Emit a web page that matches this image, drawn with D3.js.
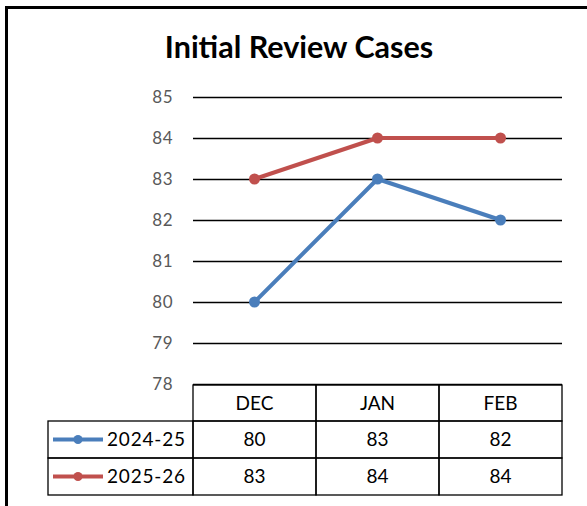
<!DOCTYPE html>
<html>
<head>
<meta charset="utf-8">
<script src="https://cdn.jsdelivr.net/npm/d3@7"></script>
<style>
  body { margin: 0; background: #fff; }
  svg { display: block; }
</style>
</head>
<body>
<main></main>
<script>
let svgWidth  = 587;
let svgHeight = 506;

const months   = ['DEC', 'JAN', 'FEB'];
const series   = ['2024-25', '2025-26'];
const values24 = [80, 83, 82];
const values25 = [83, 84, 84];
const yTicks   = [78, 79, 80, 81, 82, 83, 84, 85];

const colors = { '2024-25': '#4a7ebb', '2025-26': '#c0504d' };
const fontFamily = 'Lato, "Open Sans", sans-serif';

let plotLeft   = 193;
let plotRight  = 562;
let plotTop    = 97;
let plotBottom = 384;
let rowHeight  = 37;

var svg = d3.select('body main')
  .append('svg')
  .attr('width', svgWidth)
  .attr('height', svgHeight);

// frame (only left and top edges are visible)
svg.append('path')
  .attr('d', 'M6.5,506 L6.5,7.5 L587,7.5')
  .attr('fill', 'none')
  .attr('stroke', 'black')
  .attr('stroke-width', 3);

svg.append('text')
  .attr('x', 299)
  .attr('y', 58)
  .attr('text-anchor', 'middle')
  .attr('font-family', fontFamily)
  .attr('font-weight', 'bold')
  .attr('font-size', '30.5px')
  .text('Initial Review Cases');

var x = d3.scaleBand()
  .domain(months)
  .range([plotLeft, plotRight]);

var y = d3.scaleLinear()
  .domain([78, 85])
  .range([plotBottom, plotTop]);

// gridlines + y labels
var yAxis = d3.axisLeft(y)
  .tickValues(yTicks)
  .tickSize(-(plotRight - plotLeft))
  .tickPadding(20)
  .tickFormat(d3.format('d'));

var gy = svg.append('g')
  .attr('transform', 'translate(' + plotLeft + ',0)')
  .call(yAxis);

gy.select('.domain').remove();
gy.selectAll('.tick line')
  .attr('stroke', 'black')
  .attr('stroke-width', 1.3);
gy.selectAll('.tick text')
  .attr('font-family', fontFamily)
  .attr('font-size', '17px')
  .attr('letter-spacing', '0.5px')
  .attr('fill', '#595959');

// lines
var seriesData = [
  { name: series[0], values: values24 },
  { name: series[1], values: values25 }
];

var line = d3.line()
  .x(function(d, i) { return x(months[i]) + x.bandwidth() / 2; })
  .y(function(d) { return y(d); });

seriesData.forEach(function(s) {
  svg.append('path')
    .datum(s.values)
    .attr('d', line)
    .attr('fill', 'none')
    .attr('stroke', colors[s.name])
    .attr('stroke-width', 4)
    .attr('stroke-linejoin', 'round');

  svg.selectAll(null)
    .data(s.values)
    .enter()
    .append('circle')
      .attr('cx', function(d, i) { return x(months[i]) + x.bandwidth() / 2; })
      .attr('cy', function(d) { return y(d); })
      .attr('r', 5.5)
      .attr('fill', colors[s.name]);
});

// data table
var table = svg.append('g')
  .attr('font-family', fontFamily)
  .attr('font-size', '19px')
  .attr('fill', 'black');

var legendLeft = 48;
var tableTop = plotBottom + 1;

// header cells
months.forEach(function(m) {
  table.append('rect')
    .attr('x', x(m))
    .attr('y', tableTop)
    .attr('width', x.bandwidth())
    .attr('height', rowHeight - 1)
    .attr('fill', 'none')
    .attr('stroke', 'black')
    .attr('stroke-width', 1.3);
  table.append('text')
    .attr('x', x(m) + x.bandwidth() / 2)
    .attr('y', tableTop + rowHeight / 2)
    .attr('dy', '0.35em')
    .attr('text-anchor', 'middle')
    .text(m);
});

seriesData.forEach(function(s, r) {
  var rowY = tableTop + (rowHeight - 1) + r * rowHeight;

  table.append('rect')
    .attr('x', legendLeft)
    .attr('y', rowY)
    .attr('width', plotLeft - legendLeft)
    .attr('height', rowHeight)
    .attr('fill', 'none')
    .attr('stroke', 'black')
    .attr('stroke-width', 1.3);

  table.append('line')
    .attr('x1', 53).attr('x2', 103)
    .attr('y1', rowY + rowHeight / 2).attr('y2', rowY + rowHeight / 2)
    .attr('stroke', colors[s.name])
    .attr('stroke-width', 4);
  table.append('circle')
    .attr('cx', 78)
    .attr('cy', rowY + rowHeight / 2)
    .attr('r', 4.5)
    .attr('fill', colors[s.name]);

  table.append('text')
    .attr('x', 107)
    .attr('y', rowY + rowHeight / 2)
    .attr('dy', '0.35em')
    .attr('letter-spacing', '0.8px')
    .text(s.name);

  s.values.forEach(function(v, i) {
    table.append('rect')
      .attr('x', x(months[i]))
      .attr('y', rowY)
      .attr('width', x.bandwidth())
      .attr('height', rowHeight)
      .attr('fill', 'none')
      .attr('stroke', 'black')
      .attr('stroke-width', 1.3);
    table.append('text')
      .attr('x', x(months[i]) + x.bandwidth() / 2)
      .attr('y', rowY + rowHeight / 2)
      .attr('dy', '0.35em')
      .attr('text-anchor', 'middle')
      .text(v);
  });
});
</script>
</body>
</html>
